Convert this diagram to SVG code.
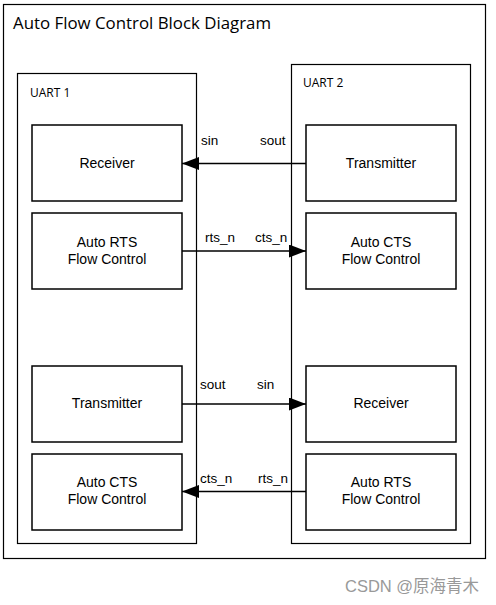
<svg xmlns="http://www.w3.org/2000/svg" width="496" height="605" viewBox="0 0 496 605">
<style>
.frame{fill:none;stroke:#000;stroke-width:1.2}
.blk{fill:#fff;stroke:#000;stroke-width:1.5}
.t{font-family:"Liberation Sans",Arial,sans-serif;font-size:14px;fill:#000}
.l{font-family:"Liberation Sans",Arial,sans-serif;font-size:13.5px;fill:#000}
.c{text-anchor:middle}
.ttl{font-family:"Open Sans","Liberation Sans",sans-serif;font-size:15.5px;fill:#000}
.ut{font-family:"Open Sans","Liberation Sans",sans-serif;font-size:12px;fill:#000}
.conn{stroke:#000;stroke-width:1.5;fill:none}
</style>
<defs>
<marker id="ah" markerWidth="17" markerHeight="13" refX="17" refY="6.5" orient="auto" markerUnits="userSpaceOnUse">
<path d="M0,0 L17,6.5 L0,13 Z" fill="#000"/>
</marker>
</defs>
<rect width="496" height="605" fill="#fff"/>
<g id="outer">
<rect class="frame" x="3.5" y="4.5" width="482" height="554"/>
<text class="ttl" x="13" y="29" textLength="258" lengthAdjust="spacingAndGlyphs">Auto Flow Control Block Diagram</text>
</g>
<g id="uart1">
<rect class="frame" x="17.5" y="73.5" width="179" height="470"/>
<text class="ut" x="30" y="97">UART 1</text>
</g>
<g id="uart2">
<rect class="frame" x="291.5" y="64.5" width="179" height="479"/>
<text class="ut" x="303" y="87">UART 2</text>
</g>
<g id="u1-receiver">
<rect class="blk" x="32" y="125" width="150" height="76"/>
<text class="t c" x="107" y="168">Receiver</text>
</g>
<g id="u1-rts">
<rect class="blk" x="32" y="213" width="150" height="76"/>
<text class="t c" x="107" y="247">Auto RTS</text>
<text class="t c" x="107" y="264">Flow Control</text>
</g>
<g id="u1-transmitter">
<rect class="blk" x="32" y="366" width="150" height="76"/>
<text class="t c" x="107" y="408">Transmitter</text>
</g>
<g id="u1-cts">
<rect class="blk" x="32" y="454" width="150" height="76"/>
<text class="t c" x="107" y="487">Auto CTS</text>
<text class="t c" x="107" y="504">Flow Control</text>
</g>
<g id="u2-transmitter">
<rect class="blk" x="306" y="125" width="150" height="76"/>
<text class="t c" x="381" y="168">Transmitter</text>
</g>
<g id="u2-cts">
<rect class="blk" x="306" y="213" width="150" height="76"/>
<text class="t c" x="381" y="247">Auto CTS</text>
<text class="t c" x="381" y="264">Flow Control</text>
</g>
<g id="u2-receiver">
<rect class="blk" x="306" y="366" width="150" height="76"/>
<text class="t c" x="381" y="408">Receiver</text>
</g>
<g id="u2-rts">
<rect class="blk" x="306" y="454" width="150" height="76"/>
<text class="t c" x="381" y="487">Auto RTS</text>
<text class="t c" x="381" y="504">Flow Control</text>
</g>
<g id="connectors">
<line class="conn" x1="306" y1="163.5" x2="182" y2="163.5" marker-end="url(#ah)"/>
<line class="conn" x1="182" y1="251" x2="306" y2="251" marker-end="url(#ah)"/>
<line class="conn" x1="182" y1="404" x2="306" y2="404" marker-end="url(#ah)"/>
<line class="conn" x1="306" y1="491.5" x2="182" y2="491.5" marker-end="url(#ah)"/>
<text class="l" x="201" y="145">sin</text>
<text class="l" x="260" y="145">sout</text>
<text class="l" x="205" y="242">rts_n</text>
<text class="l" x="255" y="242">cts_n</text>
<text class="l" x="200" y="389">sout</text>
<text class="l" x="257" y="389">sin</text>
<text class="l" x="200" y="483">cts_n</text>
<text class="l" x="258" y="483">rts_n</text>
</g>
<text x="345" y="592" font-family="'Liberation Sans','Noto Sans CJK SC',sans-serif" font-size="16.5" fill="#999">CSDN @原海青木</text>
</svg>
